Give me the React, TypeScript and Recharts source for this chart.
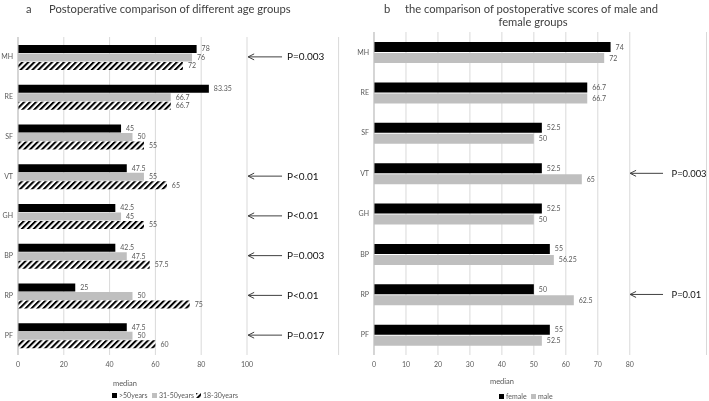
import React from 'react';
import { BarChart, Bar, XAxis, YAxis, CartesianGrid, LabelList, ReferenceLine } from 'recharts';

const categories = ['MH', 'RE', 'SF', 'VT', 'GH', 'BP', 'RP', 'PF'];
const over50 = [78, 83.35, 45, 47.5, 42.5, 42.5, 25, 47.5];
const age31to50 = [76, 66.7, 50, 55, 45, 47.5, 50, 50];
const age18to30 = [72, 66.7, 55, 65, 55, 57.5, 75, 60];
const female = [74, 66.7, 52.5, 52.5, 52.5, 55, 50, 55];
const male = [72, 66.7, 50, 65, 50, 56.25, 62.5, 52.5];

const ageTicks = [0, 20, 40, 60, 80, 100];
const sexTicks = [0, 10, 20, 30, 40, 50, 60, 70, 80];

const ageP = [
  { cat: 'MH', p: 'P=0.003' },
  { cat: 'VT', p: 'P<0.01' },
  { cat: 'GH', p: 'P<0.01' },
  { cat: 'BP', p: 'P=0.003' },
  { cat: 'RP', p: 'P<0.01' },
  { cat: 'PF', p: 'P=0.017' },
];
const sexP = [
  { cat: 'VT', p: 'P=0.003' },
  { cat: 'RP', p: 'P=0.01' },
];

const ageSeries = [
  { key: 'over50', name: '>50years', fill: '#000000' },
  { key: 'age31to50', name: '31-50years', fill: '#bfbfbf' },
  { key: 'age18to30', name: '18-30years', fill: 'url(#hatchA)' },
];
const sexSeries = [
  { key: 'female', name: 'female', fill: '#000000' },
  { key: 'male', name: 'male', fill: '#bfbfbf' },
];

const ageData = categories.map((c, i) => ({
  cat: c,
  over50: over50[i],
  age31to50: age31to50[i],
  age18to30: age18to30[i],
}));
const sexData = categories.map((c, i) => ({ cat: c, female: female[i], male: male[i] }));

const FONT = 'Lato, "Liberation Sans", sans-serif';
const GRID = '#d9d9d9';
const AXIS = '#bfbfbf';
const TXT = '#595959';

const makeArrow = (text: string, gap: number, fs: number) => (props: any) => {
  const { x1, y1, x2 } = props;
  const y = y1;
  return (
    <g>
      <line x1={x1} y1={y} x2={x2} y2={y} stroke="#404040" strokeWidth={1} />
      <polyline
        points={`${x1 + 6},${y - 3} ${x1},${y} ${x1 + 6},${y + 3}`}
        fill="none"
        stroke="#404040"
        strokeWidth={1}
      />
      <text x={x2 + gap} y={y} dy="0.35em" fontSize={fs} fill="#111" fontFamily={FONT}>
        {text}
      </text>
    </g>
  );
};

const HatchDefs = ({ id }: { id: string }) => (
  <defs>
    <pattern id={id} patternUnits="userSpaceOnUse" width={4.2} height={4.2} patternTransform="rotate(45)">
      <rect x={0} y={0} width={4.2} height={4.2} fill="#ffffff" />
      <rect x={0} y={0} width={2} height={4.2} fill="#000000" />
    </pattern>
  </defs>
);

const labelProps = { position: 'right' as const, offset: 5, fontSize: 7, fill: TXT };

export default function App() {
  return (
    <div
      style={{
        position: 'fixed',
        left: 0,
        top: 0,
        width: 709,
        height: 401,
        background: '#ffffff',
        fontFamily: FONT,
        overflow: 'hidden',
        filter: 'grayscale(1)',
      }}
    >
      {/* Left chart */}
      <div style={{ position: 'absolute', left: 0, top: 0 }}>
        <BarChart
          layout="vertical"
          width={355}
          height={401}
          data={ageData}
          margin={{ top: 37, right: 16.4, bottom: 32, left: 0 }}
          barCategoryGap="20%"
          barGap={0.5}
        >
          <HatchDefs id="hatchA" />
          <CartesianGrid horizontal={false} stroke={GRID} />
          <XAxis
            type="number"
            domain={[0, 140]}
            ticks={ageTicks}
            axisLine={false}
            tickLine={false}
            tickSize={0}
            tickMargin={7}
            height={14}
            tick={{ fontSize: 7, fill: TXT }}
          />
          <YAxis
            type="category"
            dataKey="cat"
            width={18}
            tickLine={false}
            tickSize={0}
            tickMargin={5}
            axisLine={{ stroke: AXIS }}
            tick={{ fontSize: 7, fill: TXT }}
          />
          {ageSeries.map((s) => (
            <Bar key={s.key} dataKey={s.key} name={s.name} fill={s.fill} isAnimationActive={false}>
              <LabelList dataKey={s.key} {...labelProps} />
            </Bar>
          ))}
          {ageP.map((a) => (
            <ReferenceLine
              key={a.cat}
              segment={[
                { x: 100.5, y: a.cat },
                { x: 115.3, y: a.cat },
              ]}
              ifOverflow="visible"
              shape={makeArrow(a.p, 5, 10)}
            />
          ))}
        </BarChart>
      </div>

      {/* Right chart */}
      <div style={{ position: 'absolute', left: 355, top: 0 }}>
        <BarChart
          layout="vertical"
          width={354}
          height={401}
          data={sexData}
          margin={{ top: 32, right: 2.5, bottom: 32, left: 0 }}
          barCategoryGap="25%"
          barGap={1}
        >
          <CartesianGrid horizontal={false} stroke={GRID} />
          <XAxis
            type="number"
            domain={[0, 104]}
            ticks={sexTicks}
            axisLine={false}
            tickLine={false}
            tickSize={0}
            tickMargin={7}
            height={14}
            tick={{ fontSize: 7, fill: TXT }}
          />
          <YAxis
            type="category"
            dataKey="cat"
            width={19}
            tickLine={false}
            tickSize={0}
            tickMargin={5}
            axisLine={{ stroke: AXIS }}
            tick={{ fontSize: 7, fill: TXT }}
          />
          {sexSeries.map((s) => (
            <Bar key={s.key} dataKey={s.key} name={s.name} fill={s.fill} isAnimationActive={false}>
              <LabelList dataKey={s.key} {...labelProps} />
            </Bar>
          ))}
          {sexP.map((a) => (
            <ReferenceLine
              key={a.cat}
              segment={[
                { x: 80.1, y: a.cat },
                { x: 90.4, y: a.cat },
              ]}
              ifOverflow="visible"
              shape={makeArrow(a.p, 8.5, 9.4)}
            />
          ))}
        </BarChart>
      </div>

      {/* Titles, axis titles, legends */}
      <svg
        width={709}
        height={401}
        style={{ position: 'absolute', left: 0, top: 0, pointerEvents: 'none' }}
      >
        <HatchDefs id="hatchL" />
        <text x={26} y={12.5} fontSize={11.2} fill="#404040">a</text>
        <text x={49} y={12.5} fontSize={11.2} fill="#404040">
          Postoperative comparison of different age groups
        </text>
        <text x={384} y={12.5} fontSize={11.2} fill="#404040">b</text>
        <text x={405} y={12.5} fontSize={11.2} fill="#404040">
          the comparison of postoperative scores of male and
        </text>
        <text x={533} y={25.5} fontSize={11.2} fill="#404040" textAnchor="middle">
          female groups
        </text>

        <text x={125} y={385.5} fontSize={7.5} fill={TXT} textAnchor="middle">median</text>
        <text x={502} y={384} fontSize={7.5} fill={TXT} textAnchor="middle">median</text>

        {/* left legend */}
        <g fontSize={7} fill={TXT}>
          <rect x={112} y={393} width={5} height={5} fill="#000" />
          <text x={119} y={398}>{ageSeries[0].name}</text>
          <rect x={152} y={393} width={5} height={5} fill="#bfbfbf" />
          <text x={159} y={398}>{ageSeries[1].name}</text>
          <rect x={196} y={393} width={5} height={5} fill="url(#hatchL)" />
          <text x={203} y={398}>{ageSeries[2].name}</text>
        </g>
        {/* right legend */}
        <g fontSize={7} fill={TXT}>
          <rect x={499} y={394} width={5} height={5} fill="#000" />
          <text x={506} y={399}>{sexSeries[0].name}</text>
          <rect x={531} y={394} width={5} height={5} fill="#bfbfbf" />
          <text x={538} y={399}>{sexSeries[1].name}</text>
        </g>
      </svg>
    </div>
  );
}
